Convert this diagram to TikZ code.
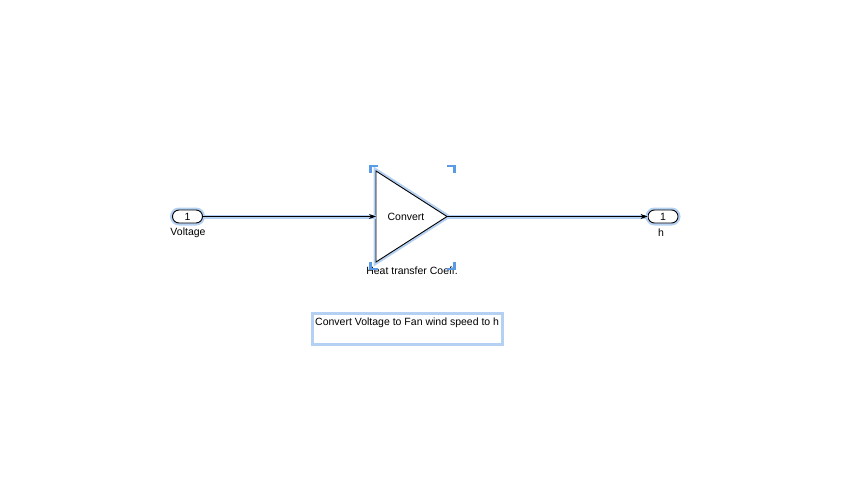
\documentclass[tikz,border=0pt]{standalone}
\usepackage{fontspec}
\setmainfont{Liberation Sans}
\usetikzlibrary{arrows.meta}
\definecolor{glow}{HTML}{B4D0F2}
\definecolor{selblue}{HTML}{5B9BE6}
\tikzset{
  port/.style={draw=black, line width=0.9pt, fill=white, rounded corners=6.5pt, minimum width=30pt, minimum height=13pt, inner sep=0pt, font=\fontsize{10.5}{12}\selectfont, preaction={draw=glow, line width=5pt}},
  lbl/.style={font=\fontsize{10.5}{12}\selectfont, inner sep=0pt},
  sig/.style={draw=black, line width=0.8pt, -{Stealth[length=7pt,width=5pt]}, preaction={draw=glow, line width=4pt, -}},
  corner/.style={draw=selblue, line width=2.5pt, line cap=butt},
}
\begin{document}
\begin{tikzpicture}[x=1pt,y=-1pt]
\useasboundingbox (0,0) rectangle (858,481);
% inport
\node[port] (in) at (187.5,216.5) {1};
\node[lbl] (inl) at (188,233) {Voltage};
% gain triangle
\coordinate (gl) at (376,216.5);
\coordinate (gt) at (376,171);
\coordinate (gb) at (376,262);
\coordinate (gr) at (447,216.5);
\draw[glow, line width=5pt, line join=miter] (gt) -- (gr) -- (gb) -- cycle;
\draw[black, line width=0.9pt, fill=white] (gt) -- (gr) -- (gb) -- cycle;
\node[lbl] (gtxt) at (406,216.5) {Convert};
\node[lbl] (gname) at (412,271) {Heat transfer Coeff.};
% selection corners
\draw[corner] (370.5,173) -- (370.5,166) -- (378,166);
\draw[corner] (447,166) -- (454.5,166) -- (454.5,173);
\draw[corner] (370.5,262) -- (370.5,269) -- (378,269);
\draw[corner] (447,269) -- (454.5,269) -- (454.5,262);
% outport
\node[port] (out) at (663,216.5) {1};
\node[lbl] (outl) at (661,233) {h};
% signals
\draw[sig] (in.east) -- (gl);
\draw[sig] (gr) -- (out.west);
% annotation
\node[draw=glow, line width=3pt, minimum width=190pt, minimum height=31pt, inner sep=0pt] (ann) at (407,329) {};
\node[lbl, anchor=west] (anntxt) at (315,323) {Convert Voltage to Fan wind speed to h};
\end{tikzpicture}
\end{document}
